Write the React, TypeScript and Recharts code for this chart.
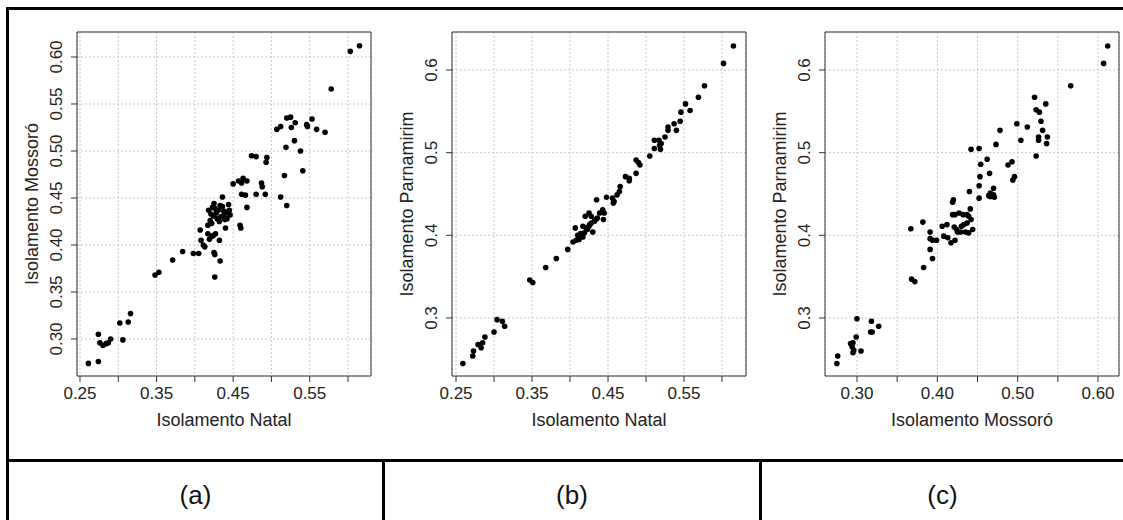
import { ScatterChart, Scatter, XAxis, YAxis, CartesianGrid, ReferenceArea } from 'recharts'

const natalMossoro: [number, number][] = [
  [0.261, 0.274], [0.274, 0.276], [0.274, 0.305], [0.276, 0.296], [0.280, 0.293], [0.284, 0.295], [0.287, 0.296], [0.290, 0.300],
  [0.302, 0.317], [0.306, 0.299], [0.313, 0.318], [0.316, 0.327],
  [0.348, 0.368], [0.353, 0.371], [0.371, 0.384], [0.384, 0.393], [0.398, 0.391], [0.405, 0.391],
  [0.425, 0.392], [0.426, 0.390], [0.433, 0.383], [0.426, 0.366],
  [0.407, 0.416], [0.408, 0.405], [0.411, 0.400], [0.413, 0.398],
  [0.417, 0.412], [0.422, 0.409], [0.427, 0.412], [0.419, 0.406], [0.432, 0.405], [0.424, 0.410],
  [0.417, 0.421], [0.422, 0.423], [0.440, 0.418], [0.459, 0.421], [0.460, 0.418],
  [0.418, 0.437], [0.421, 0.433], [0.423, 0.440], [0.425, 0.444], [0.426, 0.439], [0.428, 0.434], [0.429, 0.428],
  [0.431, 0.437], [0.433, 0.442], [0.434, 0.430], [0.436, 0.441], [0.437, 0.431], [0.438, 0.436], [0.439, 0.427],
  [0.441, 0.434], [0.442, 0.428], [0.444, 0.443], [0.445, 0.437], [0.446, 0.432], [0.420, 0.426], [0.424, 0.431], [0.432, 0.425],
  [0.436, 0.451], [0.450, 0.465], [0.457, 0.468], [0.463, 0.471], [0.461, 0.466], [0.468, 0.468],
  [0.461, 0.454], [0.466, 0.453], [0.468, 0.440], [0.480, 0.454], [0.487, 0.466], [0.488, 0.462], [0.492, 0.454], [0.512, 0.451], [0.520, 0.442],
  [0.474, 0.495], [0.480, 0.494], [0.494, 0.493], [0.493, 0.488], [0.517, 0.474], [0.541, 0.479],
  [0.519, 0.504], [0.530, 0.511], [0.538, 0.500],
  [0.507, 0.523], [0.512, 0.526], [0.520, 0.535], [0.525, 0.536], [0.526, 0.525], [0.531, 0.530], [0.546, 0.528], [0.547, 0.526],
  [0.553, 0.534], [0.559, 0.523], [0.570, 0.520],
  [0.578, 0.566], [0.603, 0.606], [0.615, 0.612],
]

const natalParnamirim: [number, number][] = [
  [0.259, 0.245], [0.272, 0.254], [0.273, 0.260], [0.279, 0.268], [0.283, 0.264], [0.285, 0.270], [0.288, 0.277], [0.300, 0.283],
  [0.304, 0.298], [0.311, 0.296], [0.314, 0.290], [0.347, 0.346], [0.351, 0.343], [0.368, 0.361], [0.382, 0.372], [0.397, 0.383],
  [0.404, 0.392], [0.408, 0.394], [0.412, 0.395], [0.417, 0.398], [0.407, 0.409], [0.419, 0.403], [0.423, 0.407], [0.425, 0.411],
  [0.428, 0.415], [0.432, 0.417], [0.436, 0.421], [0.421, 0.409], [0.430, 0.404], [0.417, 0.411], [0.439, 0.427], [0.443, 0.431],
  [0.445, 0.427], [0.444, 0.419], [0.420, 0.423], [0.425, 0.427], [0.428, 0.423], [0.414, 0.402], [0.426, 0.413], [0.434, 0.419],
  [0.410, 0.400], [0.435, 0.443], [0.448, 0.446], [0.456, 0.445], [0.458, 0.441], [0.457, 0.439], [0.462, 0.449], [0.465, 0.453],
  [0.466, 0.459], [0.473, 0.471], [0.478, 0.469], [0.478, 0.466], [0.487, 0.475], [0.487, 0.491], [0.490, 0.488], [0.492, 0.485],
  [0.505, 0.496], [0.511, 0.505], [0.519, 0.504], [0.511, 0.515], [0.517, 0.515], [0.520, 0.511], [0.518, 0.509], [0.525, 0.519],
  [0.529, 0.531], [0.529, 0.527], [0.540, 0.527], [0.537, 0.535], [0.545, 0.538], [0.546, 0.549], [0.552, 0.559], [0.558, 0.551],
  [0.569, 0.567], [0.577, 0.581], [0.602, 0.608], [0.615, 0.629],
]

const mossoroParnamirim: [number, number][] = [
  [0.275, 0.245], [0.276, 0.254], [0.292, 0.269], [0.295, 0.270], [0.296, 0.261], [0.295, 0.258], [0.294, 0.265], [0.305, 0.260],
  [0.299, 0.277], [0.300, 0.299], [0.318, 0.296], [0.317, 0.283], [0.319, 0.283], [0.327, 0.290],
  [0.368, 0.347], [0.372, 0.344], [0.383, 0.361], [0.394, 0.372], [0.391, 0.383], [0.367, 0.408], [0.382, 0.416],
  [0.391, 0.404], [0.391, 0.396], [0.394, 0.394], [0.399, 0.394], [0.406, 0.411], [0.412, 0.413], [0.408, 0.399], [0.413, 0.397],
  [0.417, 0.391], [0.422, 0.394], [0.421, 0.410], [0.425, 0.404], [0.429, 0.404], [0.433, 0.413], [0.435, 0.404], [0.439, 0.403],
  [0.444, 0.407], [0.442, 0.419], [0.437, 0.415], [0.419, 0.425], [0.427, 0.427], [0.419, 0.440], [0.420, 0.443], [0.441, 0.432],
  [0.437, 0.425], [0.452, 0.445], [0.466, 0.447], [0.470, 0.449], [0.471, 0.446], [0.422, 0.425], [0.432, 0.425], [0.439, 0.423],
  [0.430, 0.411], [0.424, 0.407], [0.440, 0.453], [0.452, 0.460], [0.470, 0.457], [0.464, 0.448], [0.466, 0.451],
  [0.453, 0.471], [0.465, 0.475], [0.462, 0.492], [0.454, 0.486], [0.442, 0.504], [0.452, 0.505], [0.488, 0.485], [0.493, 0.489],
  [0.494, 0.467], [0.496, 0.471], [0.473, 0.510], [0.478, 0.527], [0.499, 0.535], [0.512, 0.531], [0.504, 0.515], [0.523, 0.496],
  [0.526, 0.519], [0.526, 0.515], [0.537, 0.519], [0.536, 0.511], [0.531, 0.527], [0.529, 0.538], [0.523, 0.552], [0.527, 0.549],
  [0.535, 0.559], [0.521, 0.567], [0.566, 0.581], [0.607, 0.608], [0.612, 0.629],
]

// eixos
const ticksNatal = [0.25, 0.3, 0.35, 0.4, 0.45, 0.5, 0.55, 0.6]
const labelsNatal = ['0.25', '', '0.35', '', '0.45', '', '0.55', '']
const ticksMossoroY = [0.3, 0.35, 0.4, 0.45, 0.5, 0.55, 0.6]
const labelsMossoroY = ['0.30', '0.35', '0.40', '0.45', '0.50', '0.55', '0.60']
const ticksMossoroX = [0.3, 0.35, 0.4, 0.45, 0.5, 0.55, 0.6]
const labelsMossoroX = ['0.30', '', '0.40', '', '0.50', '', '0.60']
const ticksParnamirim = [0.3, 0.4, 0.5, 0.6]
const labelsParnamirim = ['0.3', '0.4', '0.5', '0.6']

const captions = ['(a)', '(b)', '(c)']

const FONT = '"Liberation Sans", Arial, sans-serif'
const TXT = '#222'

type PainelProps = {
  pontos: [number, number][]
  left: number
  width: number
  right: number
  yWidth: number
  titleOffset: number
  xDomain: [number, number]
  yDomain: [number, number]
  xTicks: number[]
  xLabels: string[]
  yTicks: number[]
  yLabels: string[]
  xTitle: string
  yTitle: string
}

function Painel(p: PainelProps) {
  const data = p.pontos.map(([x, y]) => ({ x, y }))
  const yTick = (t: any) => {
    const i = p.yTicks.indexOf(t.payload.value)
    const tx = t.x - 12
    return (
      <text x={tx} y={t.y} transform={`rotate(-90, ${tx}, ${t.y})`} textAnchor="middle" dy="0.35em" fontSize={17} fill={TXT}>
        {p.yLabels[i]}
      </text>
    )
  }
  return (
    <div style={{ position: 'absolute', left: p.left, top: 0 }}>
      <ScatterChart width={p.width} height={440} margin={{ top: 32, right: p.right, bottom: 0, left: 0 }}>
        <CartesianGrid stroke="#c8c8c8" strokeDasharray="2 2" />
        <XAxis
          type="number"
          dataKey="x"
          domain={p.xDomain}
          ticks={p.xTicks}
          allowDataOverflow
          interval={0}
          height={64}
          axisLine={false}
          tickLine={{ stroke: '#333' }}
          tickSize={6}
          tickMargin={5}
          tick={{ fill: TXT, fontSize: 17 }}
          tickFormatter={(v: number, i: number) => p.xLabels[i]}
          label={{ value: p.xTitle, position: 'insideBottom', offset: 14, fill: TXT, fontSize: 18 }}
        />
        <YAxis
          type="number"
          dataKey="y"
          domain={p.yDomain}
          ticks={p.yTicks}
          allowDataOverflow
          interval={0}
          width={p.yWidth}
          axisLine={false}
          tickLine={{ stroke: '#333' }}
          tickSize={6}
          tickMargin={3}
          tick={yTick}
          label={{ value: p.yTitle, angle: -90, position: 'insideLeft', offset: p.titleOffset, fill: TXT, fontSize: 18, style: { textAnchor: 'middle' } }}
        />
        <ReferenceArea x1={p.xDomain[0]} x2={p.xDomain[1]} y1={p.yDomain[0]} y2={p.yDomain[1]} fill="none" fillOpacity={0} stroke="#333" strokeWidth={1} />
        <Scatter
          data={data}
          isAnimationActive={false}
          shape={(s: any) => <circle cx={s.cx} cy={s.cy} r={2.8} fill="#000" />}
        />
      </ScatterChart>
    </div>
  )
}

const linha = (left: number, top: number, width: number, height: number) => (
  <div style={{ position: 'absolute', left, top, width, height, background: '#000' }} />
)

export default function App() {
  return (
    <div style={{ position: 'absolute', left: 0, top: 0, width: 1123, height: 520, background: '#fff', overflow: 'hidden', fontFamily: FONT }}>
      <Painel
        pontos={natalMossoro} left={0} width={380} right={9} yWidth={77} titleOffset={32}
        xDomain={[0.2461, 0.630]} yDomain={[0.2606, 0.6266]}
        xTicks={ticksNatal} xLabels={labelsNatal} yTicks={ticksMossoroY} yLabels={labelsMossoroY}
        xTitle="Isolamento Natal" yTitle="Isolamento Mossoró"
      />
      <Painel
        pontos={natalParnamirim} left={383} width={377} right={14} yWidth={69} titleOffset={24}
        xDomain={[0.2447, 0.6316]} yDomain={[0.2298, 0.646]}
        xTicks={ticksNatal} xLabels={labelsNatal} yTicks={ticksParnamirim} yLabels={labelsParnamirim}
        xTitle="Isolamento Natal" yTitle="Isolamento Parnamirim"
      />
      <Painel
        pontos={mossoroParnamirim} left={760} width={363} right={4} yWidth={65} titleOffset={20}
        xDomain={[0.2602, 0.6261]} yDomain={[0.2298, 0.646]}
        xTicks={ticksMossoroX} xLabels={labelsMossoroX} yTicks={ticksParnamirim} yLabels={labelsParnamirim}
        xTitle="Isolamento Mossoró" yTitle="Isolamento Parnamirim"
      />
      {/* moldura da tabela */}
      {linha(6, 7, 1117, 3)}
      {linha(6, 7, 3, 513)}
      {linha(6, 459, 1117, 3)}
      {linha(382, 459, 3, 61)}
      {linha(759, 459, 3, 61)}
      {captions.map((c, i) => {
        const cells = [[9, 382], [385, 759], [762, 1123]]
        const [a, b] = cells[i]
        return (
          <div key={c} style={{ position: 'absolute', left: a, top: 462, width: b - a, height: 66, lineHeight: '66px', textAlign: 'center', fontSize: 26, color: '#111' }}>
            {c}
          </div>
        )
      })}
    </div>
  )
}
